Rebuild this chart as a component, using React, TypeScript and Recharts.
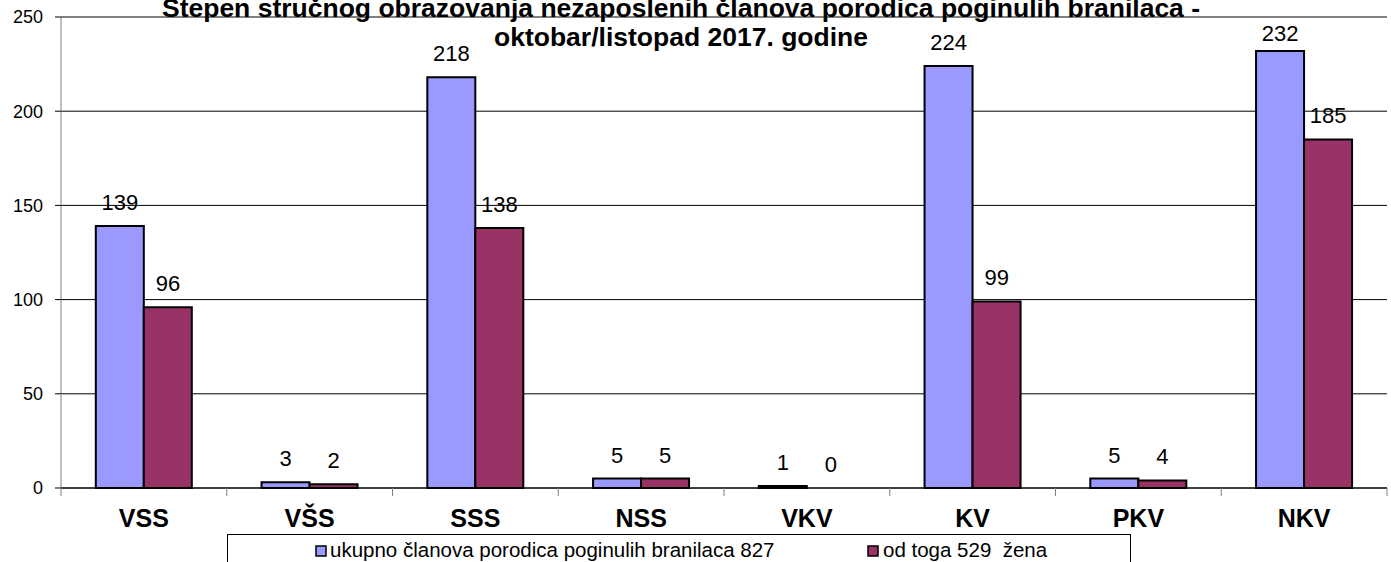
import React from 'react';
import { ComposedChart, Bar, Line, XAxis, YAxis, CartesianGrid, LabelList } from 'recharts';

const categories = ['VSS', 'VŠS', 'SSS', 'NSS', 'VKV', 'KV', 'PKV', 'NKV'];
const ukupno = [139, 3, 218, 5, 1, 224, 5, 232];
const odTogaZena = [96, 2, 138, 5, 0, 99, 4, 185];
const yTicks = [0, 50, 100, 150, 200, 250];
const seriesNames = ['ukupno članova porodica poginulih branilaca 827', 'od toga 529  žena'];
const titleLines = [
  'Stepen stručnog obrazovanja nezaposlenih članova porodica poginulih branilaca -',
  'oktobar/listopad 2017. godine',
];

const W = 1391;
const H = 562;
const FONT = '"Liberation Sans", Arial, sans-serif';
const BLUE = '#9999FF';
const MAROON = '#993366';

// plot area: x 61..1387, y 17..488
const PLOT_LEFT = 61;
const PLOT_RIGHT = 4;
const CATEGORY_GAP = 0.21;
const bandWidth = (W - PLOT_LEFT - PLOT_RIGHT) / categories.length;
const barWidth = (bandWidth * (1 - 2 * CATEGORY_GAP)) / 2;

const data = categories.map((name, i) => ({
  name,
  ukupno: ukupno[i],
  zene: odTogaZena[i],
}));

const CategoryTick = (props: any) => {
  const { x, y, payload, index } = props;
  const left = x - bandWidth / 2;
  const right = x + bandWidth / 2;
  return (
    <g>
      <line x1={left} y1={y} x2={left} y2={y + 8} stroke='#808080' />
      {index === categories.length - 1 && (
        <line x1={right} y1={y} x2={right} y2={y + 8} stroke='#808080' />
      )}
      <text x={x} y={y + 39} textAnchor='middle' fontSize={25} fontWeight='bold' fill='#000' fontFamily={FONT}>
        {payload.value}
      </text>
    </g>
  );
};

const YTick = (props: any) => {
  const { x, y, payload } = props;
  return (
    <text x={x} y={y} dy='0.355em' textAnchor='end' fontSize={18} fill='#000' fontFamily={FONT}>
      {payload.value}
    </text>
  );
};

// value labels hang off an invisible line, shifted onto the matching bar
const ValueLabel = (props: any) => {
  const { x, y, value, shift } = props;
  const ty = Math.max(Number(y) - 16, 41);
  return (
    <text x={Number(x) + shift} y={ty} textAnchor='middle' fontSize={22} fill='#000' fontFamily={FONT}>
      {value}
    </text>
  );
};

export default function App() {
  return (
    <div style={{ position: 'absolute', left: 0, top: 0, width: W, height: H, overflow: 'hidden', background: '#fff' }}>
      <ComposedChart
        width={W}
        height={H}
        data={data}
        margin={{ top: 17, right: PLOT_RIGHT, left: 0, bottom: 0 }}
        barCategoryGap={`${CATEGORY_GAP * 100}%`}
        barGap={0}
      >
        <CartesianGrid vertical={false} stroke='#000' />
        <XAxis
          dataKey='name'
          height={74}
          tickLine={false}
          tickSize={0}
          tickMargin={0}
          axisLine={{ stroke: '#000' }}
          tick={<CategoryTick />}
          interval={0}
        />
        <YAxis
          width={PLOT_LEFT}
          domain={[0, 250]}
          ticks={yTicks}
          tickSize={6}
          tickMargin={12}
          axisLine={{ stroke: '#808080' }}
          tickLine={{ stroke: '#000' }}
          tick={<YTick />}
        />
        <Bar dataKey='ukupno' name={seriesNames[0]} fill={BLUE} stroke='#000' strokeWidth={2} isAnimationActive={false} />
        <Bar dataKey='zene' name={seriesNames[1]} fill={MAROON} stroke='#000' strokeWidth={2} isAnimationActive={false} />
        <Line dataKey='ukupno' stroke='none' dot={false} activeDot={false} legendType='none' isAnimationActive={false}>
          <LabelList dataKey='ukupno' content={<ValueLabel shift={-barWidth / 2} />} />
        </Line>
        <Line dataKey='zene' stroke='none' dot={false} activeDot={false} legendType='none' isAnimationActive={false}>
          <LabelList dataKey='zene' content={<ValueLabel shift={barWidth / 2} />} />
        </Line>
      </ComposedChart>
      <svg
        width={W}
        height={H}
        style={{ position: 'absolute', left: 0, top: 0, pointerEvents: 'none' }}
        fontFamily={FONT}
      >
        <text x={681} y={17} textAnchor='middle' fontSize={26.5} fontWeight='bold' fill='#000'>
          {titleLines[0]}
        </text>
        <text x={681} y={46} textAnchor='middle' fontSize={26.5} fontWeight='bold' fill='#000'>
          {titleLines[1]}
        </text>
        <rect x={227.5} y={534.5} width={903} height={40} fill='#fff' stroke='#000' />
        <rect x={316} y={546} width={10} height={10} fill={BLUE} stroke='#000' strokeWidth={1.5} />
        <text x={330} y={557} fontSize={20.5} fill='#000' style={{ whiteSpace: 'pre' }}>
          {seriesNames[0]}
        </text>
        <rect x={868} y={546} width={10} height={10} fill={MAROON} stroke='#000' strokeWidth={1.5} />
        <text x={883} y={557} fontSize={20.5} fill='#000' style={{ whiteSpace: 'pre' }}>
          {seriesNames[1]}
        </text>
      </svg>
    </div>
  );
}
